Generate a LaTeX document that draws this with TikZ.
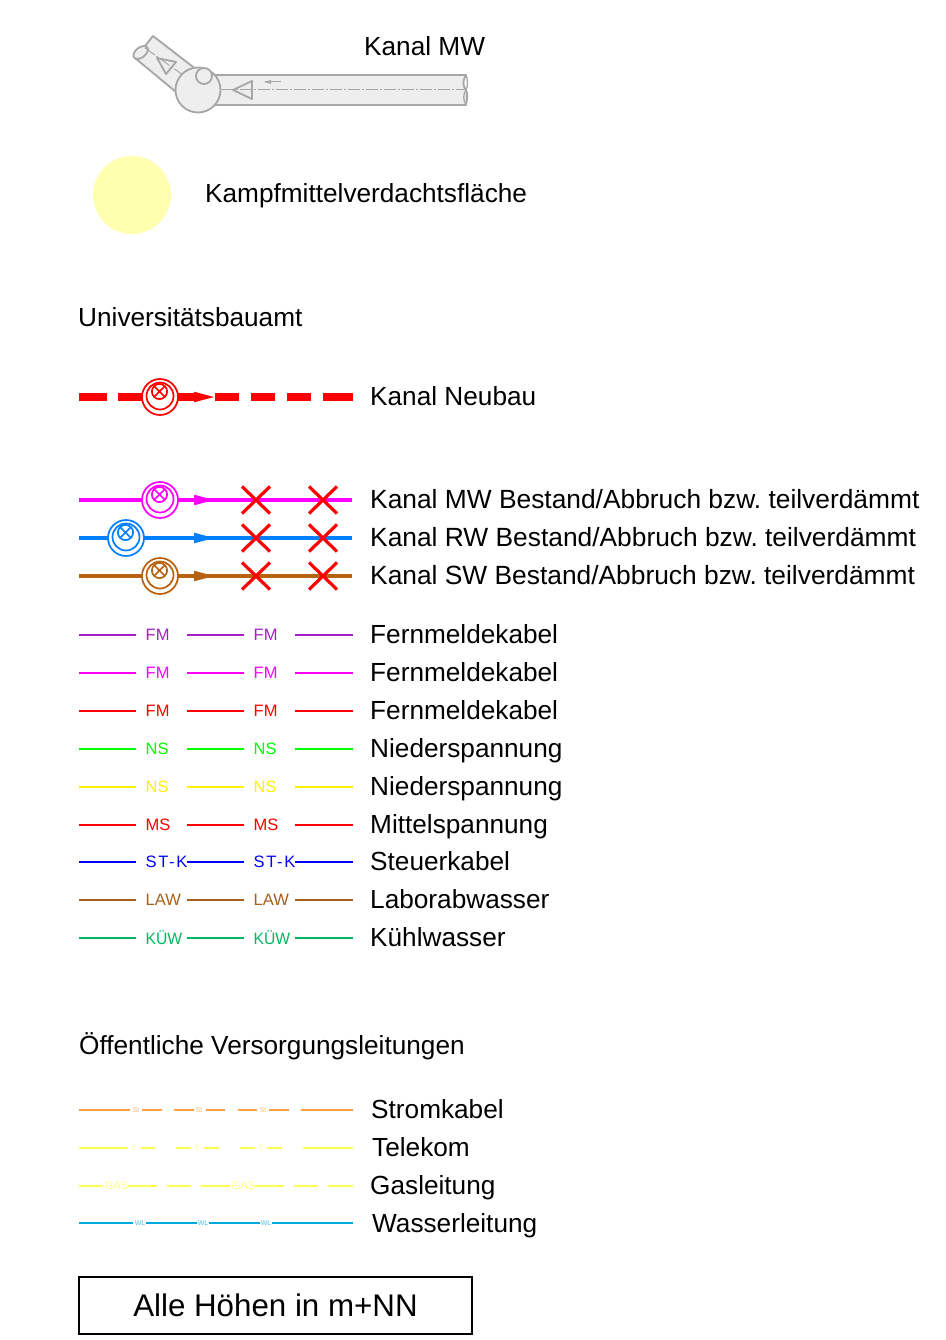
\documentclass[tikz,border=0pt]{standalone}
\usepackage{fontspec}
\setmainfont{Liberation Sans}
\definecolor{pipeline}{HTML}{A6A6A6}
\definecolor{pipefill}{HTML}{EEEEEE}
\definecolor{suspect}{HTML}{FFFFB0}
\definecolor{fmpurple}{HTML}{A61FC4}
\definecolor{kanalmag}{HTML}{FF00FF}
\definecolor{lawbrown}{HTML}{A5601E}
\definecolor{kuwgreen}{HTML}{00B860}
\definecolor{rwblue}{HTML}{007FFF}
\definecolor{swbrown}{HTML}{B8620F}
\definecolor{stromorange}{HTML}{FF9F40}
\definecolor{wasserblue}{HTML}{00A8E0}
\definecolor{paleyellow}{HTML}{FFFF50}
\definecolor{gaslabel}{HTML}{FFFF80}
\frenchspacing
\tikzset{
  x=1pt,y=-1pt,
  legendtext/.style={anchor=base west,inner sep=0pt,font=\fontsize{26.2}{30}\selectfont},
  longtext/.style={anchor=base west,inner sep=0pt,font=\fontsize{26.35}{30}\selectfont},
  pipe/.style={draw=pipeline,line width=1.8pt,line join=round},
  pipeaxis/.style={draw=pipeline,line width=1pt,dash pattern=on 12pt off 2pt on 2pt off 2pt},
  cadlabel/.style={anchor=west,inner sep=0pt,font=\fontsize{16.5}{20}\selectfont},
  cable/.style={line width=1.4pt},
  tinylabel/.style={inner sep=0pt,font=\fontsize{7}{7}\selectfont},
  kanalline/.style={line width=3.6pt},
  manholering/.style={line width=1.7pt},
  crossmark/.style={draw=red,line width=3.2pt},
}
% row of a cable with two printed codes
\newcommand{\cablerow}[4]{%
  \coordinate (r#1a) at (79,#1);
  \coordinate (r#1b) at (136,#1);
  \coordinate (r#1c) at (187,#1);
  \coordinate (r#1d) at (244,#1);
  \coordinate (r#1e) at (295,#1);
  \coordinate (r#1f) at (352.5,#1);
  \draw[cable,#2] (r#1a) -- (r#1b) (r#1c) -- (r#1d) (r#1e) -- (r#1f);
  \node[cadlabel,text=#2] (l#1a) at (145.5,#1) {#3};
  \node[cadlabel,text=#2] (l#1b) at (253.5,#1) {#3};
  \node[legendtext] (t#1) at (370,#1+8.5) {#4};
}
% manhole symbol
\newcommand{\manhole}[3]{%
  \begin{scope}[shift={(#1,#2)}]
    \draw[manholering,#3,fill=white] (0,0) circle (18);
    \draw[manholering,#3] (0,-1) circle (13.5);
    \draw[manholering,#3,fill=white] (-0.5,-5.5) circle (7.6);
    \draw[manholering,#3] (-5.8,-10.8) -- (4.8,-0.2) (4.8,-10.8) -- (-5.8,-0.2);
  \end{scope}%
}
\newcommand{\flowtip}[2]{\fill[#2] (194,#1-5.3) -- (214,#1) -- (194,#1+5.3) -- cycle;}
\newcommand{\crossat}[2]{\draw[crossmark] (#1-14,#2-13.5) -- (#1+14,#2+13.5) (#1+14,#2-13.5) -- (#1-14,#2+13.5);}
\begin{document}
\begin{tikzpicture}
\useasboundingbox (0,0) rectangle (945,1340);
\fill[white] (0,0) rectangle (945,1340);

% --- Kanal MW symbol
\draw[pipe,fill=pipefill] (135,58) .. controls (138,53) and (142,48) .. (145,46)
   -- (153,36) -- (197,70) -- (176,92) -- cycle;
\draw[pipe,fill=pipefill,rotate around={38:(140.7,52.5)}] (140.7,52.5) ellipse (8.3 and 5);
\draw[pipeaxis] (145,48) -- (183,75);
\draw[pipe] (157,58) -- (176,62) -- (166,74) -- cycle;
\draw[pipe,fill=pipefill] (215,75) -- (466,75) .. controls (462,82) and (463,86) .. (466,90)
   .. controls (468,94) and (467,100) .. (466,105) -- (215,105) -- cycle;
\draw[draw=pipeline,line width=1.3pt] (466,75) .. controls (468,80) and (468,86) .. (466,90)
   .. controls (463,94) and (463,100) .. (466,105);
\draw[pipeaxis] (222,90) -- (466,90);
\draw[pipe] (233,90) -- (252,81) -- (252,99) -- cycle;
\draw[draw=pipeline,line width=1pt] (265,82) -- (281,82);
\fill[pipeline] (264,82) -- (271,80) -- (271,84) -- cycle;
\draw[pipe,fill=pipefill] (198,90) circle (22.5);
\draw[pipe,fill=pipefill] (204,76) circle (8);
\node[legendtext] (mw) at (364,56) {Kanal MW};

% --- Kampfmittel
\fill[suspect] (132,195) circle (39);
\node[legendtext] (kampf) at (205,203) {Kampfmittelverdachtsfläche};

% --- Universitaetsbauamt
\node[legendtext] (uni) at (78,326) {Universitätsbauamt};

% Kanal Neubau
\draw[red,line width=8pt]
  (79,397) -- (107,397) (118,397) -- (194,397) (215,397) -- (239,397)
  (251,397) -- (275,397) (287,397) -- (311,397) (323,397) -- (353,397);
\manhole{160}{397}{red}
\flowtip{397}{red}
\node[legendtext] (neu) at (370,405.5) {Kanal Neubau};

% Bestand
\coordinate (mwA) at (79,500);  \coordinate (mwB) at (352,500);
\coordinate (rwA) at (79,538);  \coordinate (rwB) at (352,538);
\coordinate (swA) at (79,576);  \coordinate (swB) at (352,576);
\draw[kanalline,kanalmag] (mwA) -- (mwB);
\draw[kanalline,rwblue] (rwA) -- (rwB);
\draw[kanalline,swbrown] (swA) -- (swB);
\manhole{160}{500}{kanalmag}
\manhole{126}{538}{rwblue}
\manhole{160}{576}{swbrown}
\flowtip{500}{kanalmag}
\flowtip{538}{rwblue}
\flowtip{576}{swbrown}
\crossat{256}{500}\crossat{323}{500}
\crossat{256}{538}\crossat{323}{538}
\crossat{256}{576}\crossat{323}{576}
\node[longtext] (tmw) at (370,508.5) {Kanal MW Bestand/Abbruch bzw. teilverdämmt};
\node[longtext] (trw) at (370,546.5) {Kanal RW Bestand/Abbruch bzw. teilverdämmt};
\node[longtext] (tsw) at (370,584.5) {Kanal SW Bestand/Abbruch bzw. teilverdämmt};

% Cable rows
\cablerow{635}{fmpurple}{FM}{Fernmeldekabel}
\cablerow{673}{kanalmag}{FM}{Fernmeldekabel}
\cablerow{711}{red}{FM}{Fernmeldekabel}
\cablerow{749}{green}{NS}{Niederspannung}
\cablerow{787}{yellow}{NS}{Niederspannung}
\cablerow{825}{red}{MS}{Mittelspannung}
\cablerow{862}{blue}{\addfontfeature{LetterSpace=10}ST-K}{Steuerkabel}
\cablerow{900}{lawbrown}{LAW}{Laborabwasser}
\cablerow{938}{kuwgreen}{\addfontfeature{FakeStretch=0.95}KÜW}{Kühlwasser}

% --- Oeffentliche
\node[legendtext] (oef) at (79,1054) {Öffentliche Versorgungsleitungen};

\draw[cable,stromorange] (79,1110) -- (130,1110) (142,1110) -- (162,1110) (174,1110) -- (194,1110)
  (206,1110) -- (225,1110) (238,1110) -- (257,1110) (269,1110) -- (289,1110) (301,1110) -- (353,1110);
\foreach \px/\nm in {136/sa,199/sb,263/sc}
  \node[tinylabel,text=stromorange!70] (\nm) at (\px,1110) {St};
\node[legendtext] (tstrom) at (371,1118.5) {Stromkabel};

\draw[cable,paleyellow] (79,1148) -- (128,1148) (141,1148) -- (155,1148) (176,1148) -- (191,1148)
  (204,1148) -- (219,1148) (240,1148) -- (255,1148) (267,1148) -- (282,1148) (303,1148) -- (353,1148);
\foreach \px/\nm in {134/ta,197/tb,261/tc}
  \node[tinylabel,text=paleyellow] (\nm) at (\px,1148) {T};
\node[legendtext] (ttel) at (372,1156.5) {Telekom};

\draw[cable,paleyellow] (79,1186) -- (103,1186) (128,1186) -- (157,1186) (167,1186) -- (191,1186)
  (201,1186) -- (230,1186) (255,1186) -- (284,1186) (294,1186) -- (318,1186) (328,1186) -- (353,1186);
\foreach \px/\nm in {116.5/ga,243.5/gb}
  \node[inner sep=0pt,text=gaslabel,font=\fontsize{11}{11}\selectfont] (\nm) at (\px,1186) {GAS};
\node[legendtext] (tgas) at (370,1194.5) {Gasleitung};

\draw[cable,wasserblue] (79,1223) -- (133,1223) (146,1223) -- (197,1223) (209,1223) -- (260,1223) (272,1223) -- (353,1223);
\foreach \px/\nm in {140/wa,203/wb,266/wc}
  \node[tinylabel,text=wasserblue!70] (\nm) at (\px,1223) {WL};
\node[legendtext] (twas) at (372,1232) {Wasserleitung};

% --- Box
\node[draw=black,line width=2pt,minimum width=393pt,minimum height=57pt,inner sep=0pt,
      font=\fontsize{31.3}{34}\selectfont] (hoehen) at (275.5,1305.5) {\raisebox{1pt}{Alle Höhen in m+NN}};
\end{tikzpicture}
\end{document}
